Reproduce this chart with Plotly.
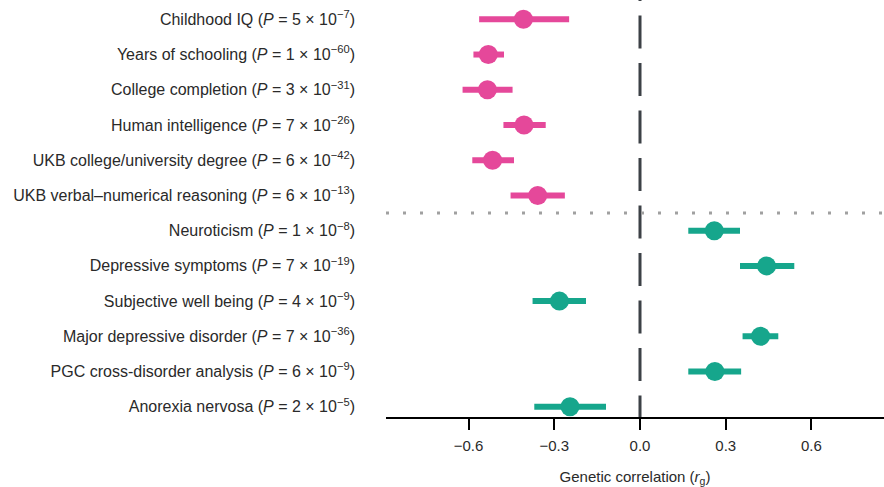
import plotly.graph_objects as go

# Traits (top to bottom), point estimates and 95% CI bounds of genetic correlation
traits = [
    "Childhood IQ (<i>P</i> = 5 × 10<sup>−7</sup>)",
    "Years of schooling (<i>P</i> = 1 × 10<sup>−60</sup>)",
    "College completion (<i>P</i> = 3 × 10<sup>−31</sup>)",
    "Human intelligence (<i>P</i> = 7 × 10<sup>−26</sup>)",
    "UKB college/university degree (<i>P</i> = 6 × 10<sup>−42</sup>)",
    "UKB verbal–numerical reasoning (<i>P</i> = 6 × 10<sup>−13</sup>)",
    "Neuroticism (<i>P</i> = 1 × 10<sup>−8</sup>)",
    "Depressive symptoms (<i>P</i> = 7 × 10<sup>−19</sup>)",
    "Subjective well being (<i>P</i> = 4 × 10<sup>−9</sup>)",
    "Major depressive disorder (<i>P</i> = 7 × 10<sup>−36</sup>)",
    "PGC cross-disorder analysis (<i>P</i> = 6 × 10<sup>−9</sup>)",
    "Anorexia nervosa (<i>P</i> = 2 × 10<sup>−5</sup>)",
]
rg = [-0.408, -0.531, -0.534, -0.406, -0.516, -0.358,
      0.260, 0.443, -0.282, 0.422, 0.262, -0.245]
ci_low = [-0.563, -0.583, -0.621, -0.478, -0.587, -0.453,
          0.169, 0.350, -0.376, 0.359, 0.169, -0.370]
ci_high = [-0.248, -0.476, -0.446, -0.330, -0.441, -0.263,
           0.350, 0.540, -0.189, 0.484, 0.354, -0.119]
group = ["cog"] * 6 + ["psy"] * 6

x_ticks = [-0.6, -0.3, 0.0, 0.3, 0.6]
x_tick_text = ["−0.6", "−0.3", "0.0", "0.3", "0.6"]

colors = {"cog": "#E5489A", "psy": "#16A68C"}
rows = list(range(1, len(traits) + 1))

fig = go.Figure()
for g in ["cog", "psy"]:
    idx = [i for i, gg in enumerate(group) if gg == g]
    fig.add_trace(go.Scatter(
        x=[rg[i] for i in idx],
        y=[rows[i] for i in idx],
        mode="markers",
        marker=dict(size=19, color=colors[g]),
        error_x=dict(
            type="data", symmetric=False,
            array=[ci_high[i] - rg[i] for i in idx],
            arrayminus=[rg[i] - ci_low[i] for i in idx],
            color=colors[g], thickness=6, width=0,
        ),
        showlegend=False,
        cliponaxis=False,
    ))

# Vertical dashed reference line at zero
fig.add_shape(type="line", xref="x", yref="paper", x0=0, x1=0, y0=1, y1=0,
              line=dict(color="#3C4146", width=3, dash="1px,14.5px,32px,0px"),
              layer="below")
# Dotted separator between the two trait groups
fig.add_shape(type="line", xref="paper", yref="y", x0=0, x1=1, y0=6.5, y1=6.5,
              line=dict(color="#A0A0A0", width=3, dash="3px,14px"),
              layer="below")

fig.update_layout(
    width=884, height=487,
    margin=dict(l=386, r=0, t=0, b=70),
    plot_bgcolor="white", paper_bgcolor="white",
    font=dict(family="Liberation Sans, Arial, sans-serif", size=16, color="#2a2a2a"),
    xaxis=dict(
        range=[-0.889, 0.854],
        tickvals=x_ticks, ticktext=x_tick_text,
        showgrid=False, zeroline=False,
        showline=True, linecolor="black", linewidth=2,
        ticks="outside", ticklen=11, tickwidth=2, tickcolor="black",
        ticklabelstandoff=3,
        tickfont=dict(size=15),
        title=dict(text="Genetic correlation (<i>r</i><sub>g</sub>)",
                   font=dict(size=15), standoff=18),
    ),
    yaxis=dict(
        range=[12.29, 0.452],
        tickvals=rows, ticktext=traits,
        showgrid=False, zeroline=False, showline=False,
        ticks="", ticklabelstandoff=30,
        tickfont=dict(size=16),
    ),
)

fig.write_html("out.html")
